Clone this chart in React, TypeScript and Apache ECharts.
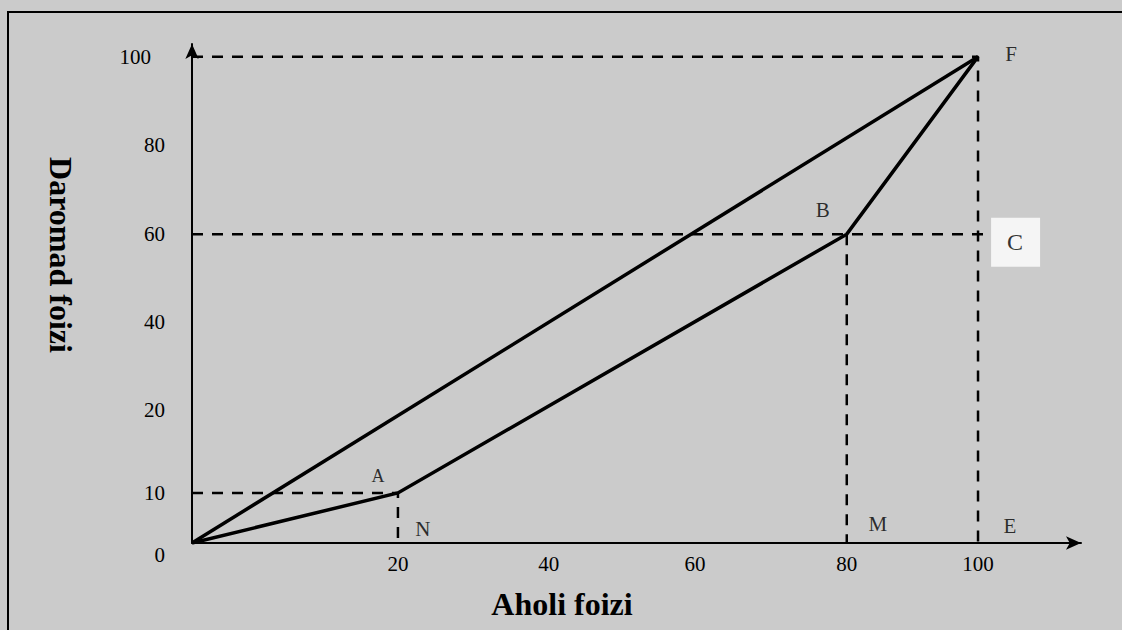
import React, { useEffect, useRef } from "react";
import * as echarts from "echarts";

// ---- data ----
const populationShare = [0, 20, 80, 100]; // cumulative % of population (x)
const incomeShare = [0, 10, 60, 100]; // cumulative % of income (y)
const pointNames = ["", "A", "B", "F"];
const footNames = ["", "N", "M", "E"];
const equalityX = [0, 100];
const equalityY = [0, 100];
const xTickValues = [20, 40, 60, 80, 100];
const yTickValues = [0, 10, 20, 40, 60, 80, 100];
const xAxisTitle = "Aholi foizi";
const yAxisTitle = "Daromad foizi";
const boxName = "C";
const boxLineEnd = 101; // dashed guide from B runs just past 100 to the C box

// ---- layout: the hand-drawn, unevenly spaced axes (value -> drawing position) ----
const X_KNOT_VALUES = [0, 20, 40, 60, 80, 100];
const X_KNOT_POS = [0, 26.2, 45.4, 64.0, 83.3, 100];
const Y_KNOT_VALUES = [0, 10, 20, 40, 60, 80, 100];
const Y_KNOT_POS = [0, 10.3, 27.3, 45.4, 63.5, 81.8, 100];

const FONT = "'Liberation Serif', 'Times New Roman', serif";

const LABEL_OFFSETS: Record<string, number[]> = {
  A: [-20, -17],
  B: [-24, -24],
  F: [33, -3],
  N: [25, -14],
  M: [31, -19],
  E: [32, -17],
  C: [31, 8],
};

function warp(v: number, from: number[], to: number[]): number {
  const n = from.length;
  let i = 0;
  if (v >= from[n - 1]) i = n - 2;
  else {
    while (i < n - 2 && v > from[i + 1]) i++;
  }
  const t = (v - from[i]) / (from[i + 1] - from[i]);
  return to[i] + t * (to[i + 1] - to[i]);
}
const wx = (v: number) => warp(v, X_KNOT_VALUES, X_KNOT_POS);
const wy = (v: number) => warp(v, Y_KNOT_VALUES, Y_KNOT_POS);

function findTick(value: number, ticks: number[], f: (v: number) => number) {
  for (const t of ticks) if (Math.abs(f(t) - value) < 0.01) return t;
  return null;
}

export default function App() {
  const ref = useRef<HTMLDivElement>(null);

  useEffect(() => {
    if (!ref.current) return;
    const chart = echarts.init(ref.current, undefined, { renderer: "svg" });

    const solid = { color: "#000", width: 3.5, type: "solid" as const };
    const dashed = { color: "#000", width: 2.5, type: [11, 9] as any };

    const lorenz = populationShare.map((x, i) => [wx(x), wy(incomeShare[i])]);
    const equality = equalityX.map((x, i) => [wx(x), wy(equalityY[i])]);

    const guideSeries: any[] = [];
    populationShare.forEach((x, i) => {
      if (i === 0) return;
      const y = incomeShare[i];
      const name = pointNames[i];
      if (name === "B") {
        guideSeries.push([[wx(0), wy(y)], [wx(boxLineEnd), wy(y)]]);
        guideSeries.push([[wx(x), wy(y)], [wx(x), wy(0)]]);
      } else {
        guideSeries.push([[wx(0), wy(y)], [wx(x), wy(y)], [wx(x), wy(0)]]);
      }
    });

    const labelBase = {
      show: true,
      fontFamily: FONT,
      fontSize: 21,
      color: "#000",
      position: "inside",
    };

    const pointLabels = populationShare
      .map((x, i) => ({ x, y: incomeShare[i], name: pointNames[i] }))
      .filter((p) => p.name)
      .map((p) => ({
        value: [wx(p.x), wy(p.y)],
        name: p.name,
        label: {
          ...labelBase,
          fontSize: p.name === "A" ? 18 : 21,
          offset: LABEL_OFFSETS[p.name],
        },
      }));
    const footLabels = populationShare
      .map((x, i) => ({ x, name: footNames[i] }))
      .filter((p) => p.name)
      .map((p) => ({
        value: [wx(p.x), wy(0)],
        name: p.name,
        label: { ...labelBase, offset: LABEL_OFFSETS[p.name] },
      }));
    const bIndex = pointNames.indexOf("B");
    const boxLabel = {
      value: [wx(boxLineEnd), wy(incomeShare[bIndex])],
      name: boxName,
      label: {
        ...labelBase,
        fontSize: 24,
        backgroundColor: "#ffffff",
        padding: [13, 17, 12, 16],
        offset: LABEL_OFFSETS[boxName],
      },
    };

    const option: any = {
      animation: false,
      backgroundColor: "#cbcbcb",
      textStyle: { fontFamily: FONT },
      grid: {
        left: 192,
        right: 41,
        top: 44,
        bottom: 87,
        containLabel: false,
        outerBoundsMode: "none",
      },
      xAxis: {
        type: "value",
        min: 0,
        max: 113.1,
        axisLine: {
          show: true,
          onZero: false,
          symbol: ["none", "arrow"],
          symbolSize: [10, 15],
          lineStyle: { color: "#000", width: 2 },
        },
        axisTick: { show: false },
        splitLine: { show: false },
        axisLabel: {
          show: true,
          customValues: xTickValues.map(wx),
          formatter: (v: number) => {
            const t = findTick(v, xTickValues, wx);
            return t === null ? "" : String(t);
          },
          fontFamily: FONT,
          fontSize: 21,
          color: "#000",
          margin: 10,
        },
      },
      yAxis: {
        type: "value",
        min: 0,
        max: 102.6,
        axisLine: {
          show: true,
          onZero: false,
          symbol: ["none", "arrow"],
          symbolSize: [10, 15],
          lineStyle: { color: "#000", width: 2 },
        },
        axisTick: { show: false },
        splitLine: { show: false },
        axisLabel: {
          show: true,
          customValues: yTickValues.map(wy),
          formatter: (v: number) => {
            const t = findTick(v, yTickValues, wy);
            if (t === null) return "";
            if (t === 0) return "{low|0}";
            if (t === 100) return "{wide|100}";
            return String(t);
          },
          fontFamily: FONT,
          fontSize: 21,
          color: "#000",
          margin: 27,
          rich: {
            low: { fontFamily: FONT, fontSize: 21, color: "#000", padding: [24, 0, 0, 0] },
            wide: { fontFamily: FONT, fontSize: 21, color: "#000", padding: [0, 14, 0, 0] },
          },
        },
      },
      graphic: [
        {
          type: "line",
          z: -10,
          silent: true,
          shape: { x1: 7, y1: 12, x2: 1122, y2: 12 },
          style: { stroke: "#000", lineWidth: 2 },
        },
        {
          type: "line",
          z: -10,
          silent: true,
          shape: { x1: 8, y1: 11, x2: 8, y2: 630 },
          style: { stroke: "#000", lineWidth: 2 },
        },
        {
          type: "text",
          x: 562,
          y: 604,
          silent: true,
          style: {
            text: xAxisTitle,
            font: `bold 32px ${FONT}`,
            fill: "#000",
            textAlign: "center",
            textVerticalAlign: "middle",
          },
        },
        {
          type: "text",
          x: 61,
          y: 255,
          rotation: -Math.PI / 2,
          silent: true,
          style: {
            text: yAxisTitle,
            font: `bold 32px ${FONT}`,
            fill: "#000",
            textAlign: "center",
            textVerticalAlign: "middle",
          },
        },
      ],
      series: [
        ...guideSeries.map((d, i) => ({
          type: "line",
          name: "guide" + i,
          data: d,
          symbol: "none",
          silent: true,
          z: 2,
          lineStyle: dashed,
        })),
        {
          type: "line",
          name: "equality",
          data: equality,
          symbol: "none",
          silent: true,
          z: 3,
          lineStyle: solid,
        },
        {
          type: "line",
          name: "lorenz",
          data: lorenz,
          symbol: "none",
          silent: true,
          z: 3,
          lineStyle: { ...solid, join: "miter" },
        },
        {
          type: "scatter",
          name: "labels",
          symbol: "circle",
          symbolSize: 1,
          silent: true,
          z: 4,
          itemStyle: { color: "rgba(0,0,0,0)" },
          label: { show: true, formatter: "{b}" },
          data: [...pointLabels, ...footLabels, boxLabel],
        },
      ],
    };

    chart.setOption(option);
    return () => chart.dispose();
  }, []);

  return (
    <div
      ref={ref}
      style={{ position: "fixed", left: 0, top: 0, width: 1122, height: 630 }}
    />
  );
}
